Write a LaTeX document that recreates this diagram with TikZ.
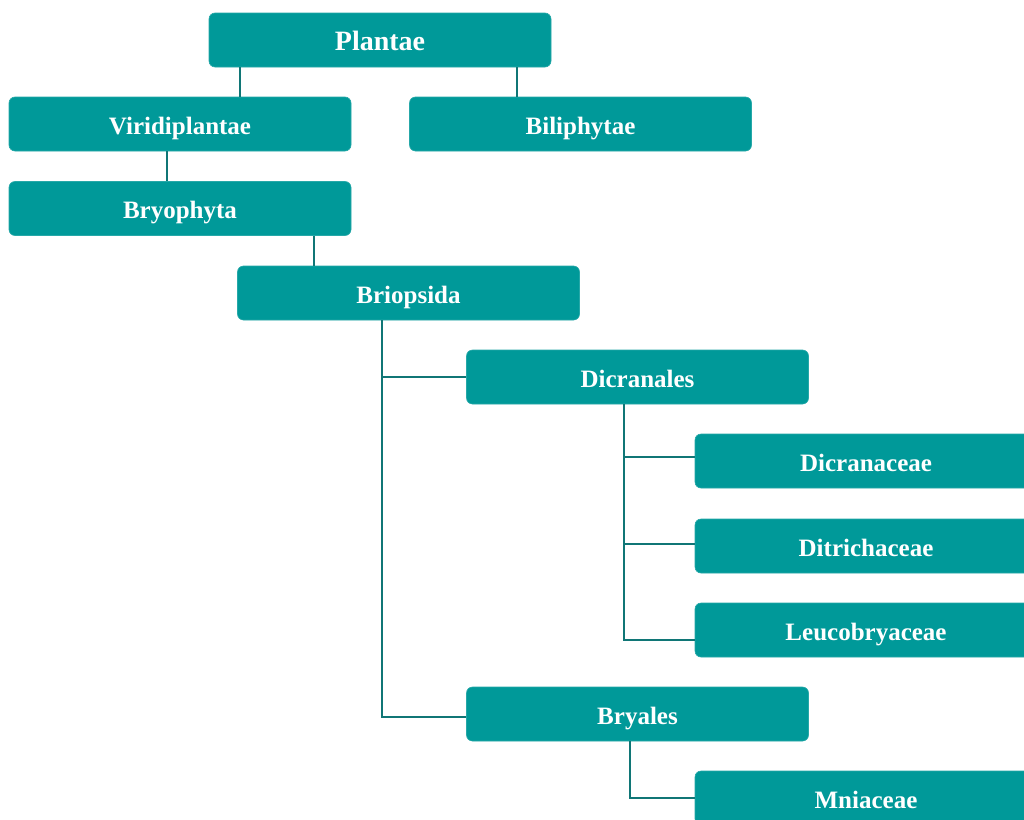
\documentclass[tikz,border=0pt]{standalone}
\usepackage{fontspec}
\setmainfont{Liberation Serif}
\begin{document}
\begin{tikzpicture}[x=1pt,y=-1pt,
  box/.style={rectangle, rounded corners=6pt, fill=boxteal, draw=boxteal!85!white, line width=0.6pt,
    minimum width=342pt, minimum height=54pt, inner sep=0pt, text=white,
    text height=20pt, text depth=0pt,
    font=\fontsize{25}{28}\selectfont\bfseries},
  link/.style={draw=lineteal, line width=1.9pt}]
\definecolor{boxteal}{RGB}{0,153,153}
\definecolor{lineteal}{RGB}{16,118,118}
\useasboundingbox (0,0) rectangle (1024,819);
\clip (0,0) rectangle (1024,819);
\fill[white] (0,0) rectangle (1024,819);
% nodes
\node[box, font=\fontsize{28}{32}\selectfont\bfseries] (plantae) at (380,40) {Plantae};
\node[box] (viri) at (180,124) {Viridiplantae};
\node[box] (bili) at (580.5,124) {Biliphytae};
\node[box] (bryo) at (180,208.5) {Bryophyta};
\node[box] (brio) at (408.5,293) {Briopsida};
\node[box] (dicr) at (637.5,377) {Dicranales};
\node[box] (dicra) at (866,461) {Dicranaceae};
\node[box] (ditr) at (866,546) {Ditrichaceae};
\node[box] (leuc) at (866,630) {Leucobryaceae};
\node[box] (brya) at (637.5,714) {Bryales};
\node[box] (mnia) at (866,798) {Mniaceae};
% connectors
\path[link] ([xshift=31pt]plantae.south west) coordinate (p1) -- (p1 |- viri.north);
\path[link] ([xshift=308pt]plantae.south west) coordinate (p2) -- (p2 |- bili.north);
\path[link] ([xshift=158pt]viri.south west) coordinate (v1) -- (v1 |- bryo.north);
\path[link] ([xshift=305pt]bryo.south west) coordinate (b1) -- (b1 |- brio.north);
\path[link] ([xshift=145pt]brio.south west) coordinate (r1) |- (dicr.west);
\path[link] (r1) |- ([yshift=-3pt]brya.west);
\path[link] ([xshift=158pt]dicr.south west) coordinate (d1) |- ([yshift=-10pt]leuc.west);
\path[link] (d1) |- ([yshift=4pt]dicra.west);
\path[link] (d1) |- ([yshift=2pt]ditr.west);
\path[link] ([xshift=164pt]brya.south west) coordinate (y1) |- (mnia.west);
\end{tikzpicture}
\end{document}
